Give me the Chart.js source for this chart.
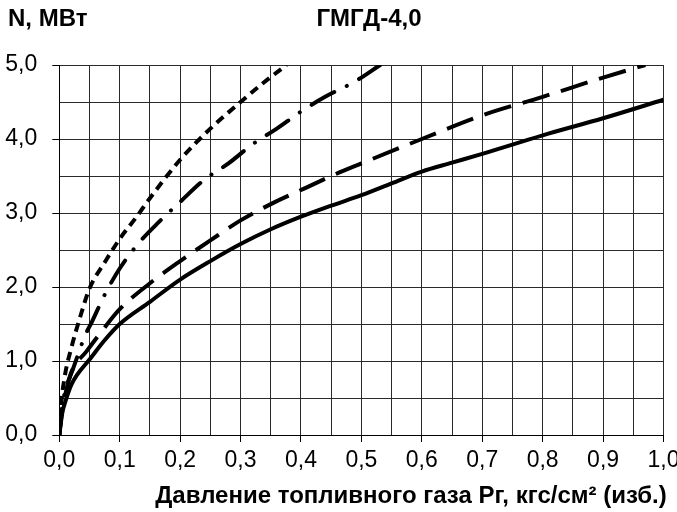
<!DOCTYPE html>
<html>
<head>
<meta charset="utf-8">
<script src="https://cdn.jsdelivr.net/npm/chart.js@4"></script>
<style>
  html, body { margin: 0; padding: 0; background: #fff; overflow: hidden; }
  #wrap { width: 677px; height: 512px; overflow: hidden; }
</style>
</head>
<body>
<div id="wrap"><canvas id="chart" width="690" height="512"></canvas></div>
<script>
// values, x = Pг (кгс/см²), y = N (МВт)
const solidX = [0, 0.005, 0.01, 0.02, 0.03, 0.05, 0.075, 0.1, 0.15, 0.2, 0.25, 0.3, 0.35, 0.4, 0.45, 0.5, 0.55, 0.6, 0.65, 0.7, 0.8, 0.9, 1.0];
const solidY = [0, 0.3, 0.45, 0.68, 0.82, 1.02, 1.28, 1.5, 1.8, 2.1, 2.35, 2.58, 2.78, 2.95, 3.1, 3.24, 3.4, 3.56, 3.68, 3.8, 4.05, 4.28, 4.53];

const dashX = [0, 0.005, 0.01, 0.02, 0.045, 0.07, 0.1, 0.15, 0.2, 0.25, 0.3, 0.35, 0.4, 0.45, 0.5, 0.6, 0.7, 0.8, 0.9, 0.97];
const dashY = [0, 0.35, 0.55, 0.85, 1.13, 1.4, 1.7, 2.05, 2.35, 2.63, 2.9, 3.12, 3.31, 3.5, 3.67, 4.0, 4.32, 4.57, 4.83, 5.0];

const dashDotX = [0, 0.005, 0.01, 0.023, 0.043, 0.054, 0.076, 0.1, 0.13, 0.165, 0.2, 0.24, 0.28, 0.32, 0.36, 0.4, 0.44, 0.49, 0.531];
const dashDotY = [0, 0.4, 0.6, 0.9, 1.35, 1.53, 1.91, 2.25, 2.58, 2.88, 3.15, 3.45, 3.67, 3.93, 4.14, 4.37, 4.57, 4.78, 5.0];

const shortX = [0, 0.003, 0.009, 0.02, 0.034, 0.05, 0.075, 0.1, 0.128, 0.15, 0.2, 0.25, 0.3, 0.338, 0.376];
const shortY = [0, 0.4, 0.79, 1.18, 1.58, 1.98, 2.33, 2.65, 2.95, 3.2, 3.72, 4.14, 4.5, 4.76, 5.0];

const chartTitle = "ГМГД-4,0";
const yTitle = "N, МВт";
const xTitle = "Давление топливного газа Рг, кгс/см² (изб.)";

const FONT = "'Liberation Sans', Arial, sans-serif";

function pts(xs, ys) {
  return xs.map((x, i) => ({ x: x, y: ys[i] }));
}

function fmt(v) {
  return v.toFixed(1).replace(".", ",");
}

// titles drawn at fixed spots like in the source picture
const textPlugin = {
  id: "texts",
  afterDraw(chart) {
    const c = chart.ctx;
    c.save();
    c.fillStyle = "#000";
    c.textBaseline = "middle";
    c.font = "bold 24px " + FONT;
    c.textAlign = "left";
    c.fillText(yTitle, 8, 19);
    c.textAlign = "center";
    c.fillText(chartTitle, 369, 19);
    c.fillText(xTitle, 411, 496);
    c.restore();
  },
};

const base = {
  borderColor: "#000",
  pointRadius: 0,
  fill: false,
  cubicInterpolationMode: "monotone",
};

new Chart(document.getElementById("chart"), {
  type: "line",
  data: {
    datasets: [
      { ...base, data: pts(solidX, solidY), borderWidth: 4 },
      { ...base, data: pts(dashX, dashY), borderWidth: 4, borderDash: [28, 12] },
      { ...base, data: pts(dashDotX, dashDotY), borderWidth: 4, borderDash: [26, 14, 0.1, 14], borderCapStyle: "round" },
      { ...base, data: pts(shortX, shortY), borderWidth: 4, borderDash: [9, 6] },
    ],
  },
  options: {
    responsive: false,
    animation: false,
    layout: { padding: { left: 0, right: 26.5, top: 65, bottom: 0 } },
    plugins: { legend: { display: false }, tooltip: { enabled: false } },
    scales: {
      x: {
        type: "linear",
        min: 0,
        max: 1,
        grid: {
          color: "#2a2a2a",
          lineWidth: 1,
          tickLength: 7,
          tickColor: (ctx) => (ctx.index % 2 === 0 ? "#000" : "rgba(0,0,0,0)"),
        },
        border: { color: "#000", width: 1 },
        ticks: {
          stepSize: 0.05,
          autoSkip: false,
          maxRotation: 0,
          padding: 5,
          color: "#000",
          font: { family: FONT, size: 23 },
          callback: (v, i) => (i % 2 === 0 ? fmt(v) : ""),
        },
        afterFit: (s) => { s.height = 77; },
      },
      y: {
        min: 0,
        max: 5,
        grid: {
          color: "#2a2a2a",
          lineWidth: 1,
          tickLength: 7,
          tickColor: (ctx) => (ctx.index % 2 === 0 ? "#000" : "rgba(0,0,0,0)"),
        },
        border: { color: "#000", width: 1 },
        ticks: {
          stepSize: 0.5,
          padding: 15,
          color: "#000",
          font: { family: FONT, size: 23 },
          callback: (v, i) => (i % 2 === 0 ? fmt(v) : ""),
        },
        afterFit: (s) => { s.width = 59.3; },
      },
    },
  },
  plugins: [textPlugin],
});
</script>
</body>
</html>
